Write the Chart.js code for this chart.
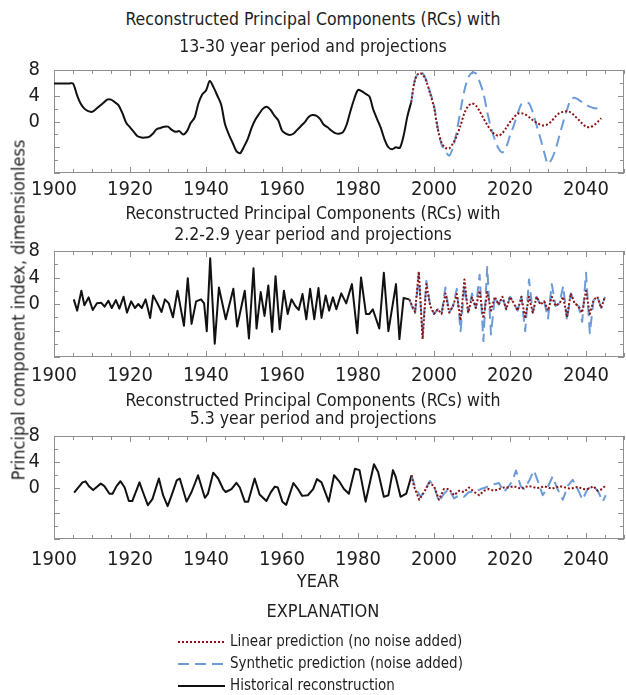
<!DOCTYPE html>
<html>
<head>
<meta charset="utf-8">
<script src="https://cdn.jsdelivr.net/npm/chart.js@4.4.1/dist/chart.umd.min.js"></script>
<style>
  body { margin: 0; background: #fff; }
  #page { position: relative; width: 626px; height: 695px; overflow: hidden;
          font-family: "Liberation Sans Narrow", "DejaVu Sans Condensed", sans-serif; color: #1e1e1e; }
  canvas { position: absolute; left: 0; }
  .t { position: absolute; left: 0; width: 626px; text-align: center; font-size: 17.5px;
       line-height: 20px; white-space: nowrap; }
  .lab { position: absolute; white-space: nowrap; }
  .row { position: absolute; left: 178px; height: 20px; font-size: 15px; line-height: 20px; white-space: nowrap; }
  .row svg { vertical-align: middle; margin-right: 5px; }
</style>
</head>
<body>
<div id="page">
  <canvas id="c1" width="626" height="157" style="top:52px"></canvas>
  <canvas id="c2" width="626" height="160" style="top:233px"></canvas>
  <canvas id="c3" width="626" height="157" style="top:418px"></canvas>

  <div class="t" style="top:9px">Reconstructed Principal Components (RCs) with</div>
  <div class="t" style="top:36px">13-30 year period and projections</div>
  <div class="t" style="top:203px">Reconstructed Principal Components (RCs) with</div>
  <div class="t" style="top:224px">2.2-2.9 year period and projections</div>
  <div class="t" style="top:390px">Reconstructed Principal Components (RCs) with</div>
  <div class="t" style="top:408px">5.3 year period and projections</div>

  <div class="lab" style="left:18px; top:310px; font-size:18px; transform: translate(-50%,-50%) rotate(-90deg);">Principal component index, dimensionless</div>
  <div class="lab" style="left:318px; top:580px; font-size:18px; transform: translate(-50%,-50%);">YEAR</div>
  <div class="lab" style="left:323px; top:610px; font-size:18px; transform: translate(-50%,-50%);">EXPLANATION</div>

  <div class="row" style="top:631px"><svg width="47" height="6"><line x1="0" y1="3" x2="47" y2="3" stroke="#8b1313" stroke-width="2" stroke-dasharray="2,2"/></svg>Linear prediction (no noise added)</div>
  <div class="row" style="top:653px"><svg width="47" height="6"><line x1="0" y1="3" x2="47" y2="3" stroke="#6d9bd8" stroke-width="2" stroke-dasharray="11,6"/></svg>Synthetic prediction (noise added)</div>
  <div class="row" style="top:675px"><svg width="47" height="6"><line x1="0" y1="3" x2="47" y2="3" stroke="#111" stroke-width="2"/></svg>Historical reconstruction</div>
</div>

<script>
// ---- Panel 1: 13-30 year period (annual values) ----
const rc1HistStart = 1900;
const rc1Hist = [5.9, 5.9, 5.9, 5.9, 5.9, 5.9,
  4.2, 2.8, 2.0, 1.6, 1.5, 1.9, 2.4, 2.9, 3.4, 3.4, 3.0, 2.5, 1.3, -0.2,
  -0.9, -1.6, -2.3, -2.5, -2.5, -2.4, -1.9, -1.2, -1.0, -0.8, -0.8, -1.3, -1.6, -1.5, -2.0,
  -1.5, -0.2, 0.6, 2.8, 4.2, 4.8, 6.3, 5.3, 4.0, 2.6, -0.4, -2.0, -3.3, -4.6, -4.9,
  -3.9, -2.7, -1.0, 0.3, 1.2, 2.0, 2.3, 1.8, 0.9, 0.2, -1.4, -1.9, -2.1, -1.9, -1.3,
  -0.7, -0.1, 0.7, 1.0, 0.9, 0.4, -0.5, -0.9, -1.4, -1.8, -1.9, -1.7, -0.5, 1.6, 3.5,
  4.9, 4.7, 4.3, 3.9, 1.9, 0.4, -1.0, -2.8, -4.0, -4.3, -4.0, -4.1, -2.2, 0.8, 3.0];
const rc1ProjStart = 1994;
const rc1Linear = [3.0, 6.5, 7.5, 7.3, 6.2, 4.3, 2.2, -1.2, -3.3, -4.1, -4.2, -3.4, -2.2, -0.6,
  1.3, 2.4, 2.8, 2.5, 1.6, 0.5, -0.5, -1.4, -2.0, -2.2, -1.8, -1.0, -0.1, 0.6, 1.2, 1.3,
  1.1, 0.7, 0.2, -0.2, -0.5, -0.6, -0.4, 0.1, 0.8, 1.3, 1.5, 1.6, 1.4, 0.9, 0.3, -0.3,
  -0.8, -0.9, -0.6, -0.1, 0.5];
const rc1Synthetic = [3.0, 6.5, 7.6, 7.5, 6.4, 4.5, 2.5, -1.0, -3.6, -4.6, -5.3, -4.0, -1.5, 1.8,
  4.8, 6.8, 7.6, 7.5, 6.2, 4.4, 1.5, -1.0, -2.8, -4.2, -4.8, -4.0, -2.2, -0.6, 1.2, 2.7,
  2.9, 2.8, 1.4, -0.6, -2.6, -4.8, -6.6, -5.8, -4.3, -2.2, -0.1, 1.8, 3.4, 3.7, 3.4, 3.0,
  2.6, 2.3, 2.1, 2.0, 1.5];

// ---- Panel 2: 2.2-2.9 year period ----
const rc2HistYears = [1905.2, 1906.1, 1907.2, 1908.0, 1909.1, 1910.2, 1911.3, 1912.4, 1913.3, 1914.3,
  1915.2, 1916.3, 1917.2, 1918.3, 1919.2, 1920.3, 1921.3, 1922.2, 1923.1, 1924.1,
  1925.3, 1926.1, 1927.3, 1928.3, 1929.2, 1930.2, 1931.3, 1932.5, 1934.2, 1935.2,
  1936.2, 1937.4, 1938.7, 1939.5, 1940.2, 1941.1, 1942.3, 1943.4, 1945.2, 1947.2,
  1948.2, 1950.2, 1951.3, 1952.5, 1953.3, 1954.4, 1955.4, 1956.4, 1957.4, 1958.3,
  1959.4, 1960.5, 1961.5, 1962.5, 1963.5, 1964.4, 1965.4, 1966.4, 1967.4, 1968.5,
  1969.6, 1970.4, 1971.5, 1972.4, 1973.4, 1974.3, 1975.6, 1976.9, 1978.4, 1979.8,
  1980.8, 1982.1, 1983.0, 1983.9, 1985.6, 1986.8, 1988.0, 1990.0, 1990.9, 1992.0, 1993.5];
const rc2Hist = [0.7, -1.0, 2.0, -0.2, 1.0, -0.9, 0.1, 0.2, -0.4, 0.5,
  -0.6, 0.6, -0.7, 1.1, -1.3, 0.4, -0.6, 0.0, -0.6, 0.7,
  -2.1, 1.3, 0.0, -1.2, 0.7, 0.1, -2.0, 2.0, -3.3, 3.9,
  -3.0, 0.4, 0.7, 0.1, -4.1, 6.9, -6.0, 2.5, -2.3, 2.3,
  -3.4, 2.0, -5.2, 5.4, -3.7, 1.8, -1.8, 2.8, -4.2, 4.2,
  -3.8, 2.0, -1.5, 0.7, -0.3, -0.9, 1.5, -2.3, 2.3, -2.3,
  2.4, -2.1, 1.3, -1.0, 1.0, -0.8, 1.6, 0.1, 3.0, -4.4,
  4.0, -1.5, -1.5, -0.8, -3.7, 4.7, -4.1, 3.0, -5.3, 0.9, 0.7];
const rc2ProjStart = 1995;
const rc2Linear = [-1.2, 4.9, -5.3, 3.0, -0.3, -1.5, -0.8, -1.5, 1.6, -1.3,
  -0.3, 1.5, -2.5, 3.7, -1.3, 1.0, -0.6, 2.0, -2.2, 1.8,
  -1.0, 1.1, -0.1, 1.1, -0.8, 1.1, 0.1, -1.0, 1.1, -2.2,
  1.1, -1.3, 1.1, -0.1, 0.4, -1.0, 1.1, -0.3, 0.1, 1.1,
  -2.0, 1.6, 0.1, -0.3, -1.3, 2.0, -1.5, 0.6, 1.1, -0.6, 1.1];
const rc2Synthetic = [-1.6, 4.5, -4.8, 3.5, -0.3, -1.5, -0.8, -1.5, 2.5, -1.3,
  -0.3, 2.3, -4.1, 2.8, -1.3, 1.6, -0.6, 4.4, -5.6, 5.6,
  -4.6, 1.1, -0.1, 1.1, -0.8, 1.1, 0.1, -1.0, 1.1, -4.1,
  3.7, -1.3, 1.1, -0.1, 0.4, -2.2, 3.0, -0.3, 0.1, 2.7,
  -2.5, 1.6, 0.1, -0.3, -2.7, 4.7, -4.4, 0.6, 1.1, -0.6, 1.1];

// ---- Panel 3: 5.3 year period ----
const rc3HistYears = [1905.3, 1906.1, 1907.5, 1908.3, 1909.2, 1910.3, 1911.1, 1912.3, 1913.2, 1914.6,
  1915.4, 1916.5, 1917.5, 1918.6, 1919.7, 1920.6, 1922.5, 1923.4, 1924.7, 1925.9,
  1927.6, 1928.7, 1929.9, 1930.9, 1932.3, 1933.1, 1934.9, 1936.2, 1937.9, 1939.7,
  1940.5, 1941.9, 1943.2, 1944.5, 1945.2, 1946.7, 1948.0, 1948.9, 1950.2, 1951.1,
  1952.8, 1954.1, 1955.9, 1957.0, 1958.1, 1958.9, 1960.1, 1961.1, 1963.0, 1964.2,
  1965.3, 1966.8, 1968.2, 1969.2, 1970.4, 1972.3, 1973.7, 1975.0, 1976.3, 1977.6,
  1979.2, 1980.4, 1982.0, 1984.2, 1985.3, 1986.8, 1988.0, 1989.2, 1989.9, 1991.2,
  1992.7, 1994.1];
const rc3Hist = [-0.8, -0.2, 0.8, 0.95, 0.2, -0.4, 0.0, 0.6, 0.25, -0.97,
  -0.97, 0.25, 0.97, 0.0, -2.1, -2.1, 0.8, -0.7, -2.75, -1.8,
  1.4, -1.2, -2.9, -1.3, 1.1, 1.4, -2.2, -0.7, 1.9, -1.6,
  -1.0, 2.3, 1.4, -0.24, -0.7, -0.24, 0.72, 0.0, -2.2, -2.2,
  1.4, -1.1, -2.1, -0.8, 0.14, 0.0, -2.2, -2.7, 0.7, -0.24,
  -1.3, -1.2, -0.24, 1.3, 0.8, -2.2, 1.9, 1.0, -0.24, -0.97,
  2.9, 2.7, -2.2, 3.6, 2.4, -1.45, -1.2, 2.7, 1.7, -1.45,
  -0.97, 1.9];
const rc3LinearYears = [1994.7, 1996.1, 1997.4, 1998.7, 2000.0, 2001.3, 2002.6, 2003.9, 2005.3, 2006.6,
  2007.9, 2009.2, 2010.6, 2011.9, 2013.2, 2014.4, 2015.8, 2017.1, 2018.4, 2019.7,
  2021, 2022, 2023, 2024, 2025, 2026, 2027, 2028, 2029, 2030,
  2031, 2032, 2033, 2034, 2035, 2036, 2037, 2038, 2039, 2040,
  2041, 2042, 2043, 2044, 2045];
const rc3Linear = [0.24, -1.9, -0.7, 0.7, 0.24, -1.9, -0.24, -0.24, -1.2, -0.5,
  -0.7, 0.0, -0.7, -1.2, -0.5, -0.24, -0.5, -0.24, 0.0, 0.0,
  0.2, 0.0, -0.2, 0.1, 0.2, 0.1, -0.1, 0.0, 0.2, 0.0,
  -0.2, 0.0, 0.2, 0.1, -0.1, -0.2, 0.0, 0.1, -0.2, -0.3,
  -0.1, 0.2, -0.5, -0.3, 0.2];
const rc3SyntheticYears = [1995.2, 1996.5, 1997.8, 1998.9, 2000.0, 2001.3, 2002.6, 2003.9, 2005.3, 2006.6,
  2007.9, 2009.2, 2010.9, 2012.3, 2013.6, 2014.4, 2015.8, 2017.1, 2018.4, 2019.7,
  2020.6, 2021.6, 2022.8, 2023.7, 2025.0, 2026.3, 2027.5, 2028.6, 2029.9, 2031.2,
  2032.5, 2033.9, 2035.2, 2036.5, 2037.8, 2039.1, 2040.4, 2041.8, 2043.1, 2044.4, 2045.2];
const rc3Synthetic = [-0.24, -1.45, -0.24, 1.0, 0.24, -2.2, -0.97, -0.24, -1.7, -1.2,
  -1.45, -0.7, -0.7, -0.24, 0.0, 0.24, 0.5, 0.7, -0.7, 0.24,
  1.0, 2.65, 0.24, -0.24, 1.0, 2.65, 0.7, -1.2, 0.0, 1.7,
  -0.24, -1.9, 0.24, 1.2, -0.24, -1.9, -0.24, 0.24, -0.5, -2.2, -1.2];

// axis ticks
const yearTicks = [1900, 1920, 1940, 1960, 1980, 2000, 2020, 2040];
const valueTicks = [-8, -4, 0, 4, 8];

const FONT = '"Liberation Sans Narrow", "DejaVu Sans Condensed", sans-serif';
const RED = '#8b1313', BLUE = '#6d9bd8', BLACK = '#111';

function pts(xs, ys) { return ys.map((v, i) => ({ x: xs[i], y: v })); }
function annual(start, ys) { return ys.map((v, i) => ({ x: start + i, y: v })); }

// frame with inward tick marks on all four sides
const frameTicks = {
    id: 'frameTicks',
    beforeDatasetsDraw(chart) {
        const { ctx, chartArea: a, scales: { x, y } } = chart;
        ctx.save();
        ctx.strokeStyle = '#8f8f8f';
        ctx.lineWidth = 1;
        ctx.strokeRect(a.left + 0.5, a.top + 0.5, a.right - a.left - 1, a.bottom - a.top - 1);
        ctx.beginPath();
        for (let yr = x.min; yr <= x.max; yr += 5) {
            const px = Math.round(x.getPixelForValue(yr)) + 0.5;
            const len = yr % 20 === 0 ? 6 : 4;
            ctx.moveTo(px, a.top); ctx.lineTo(px, a.top + len);
            ctx.moveTo(px, a.bottom); ctx.lineTo(px, a.bottom - len);
        }
        for (let v = y.min; v <= y.max; v += 2) {
            const py = Math.round(y.getPixelForValue(v)) + 0.5;
            const len = v % 4 === 0 ? 6 : 4;
            ctx.moveTo(a.left, py); ctx.lineTo(a.left + len, py);
            ctx.moveTo(a.right, py); ctx.lineTo(a.right - len, py);
        }
        ctx.stroke();
        ctx.restore();
    }
};

function makePanel(id, hist, linear, synthetic, xPad, tension) {
    const last = hist[hist.length - 1];
    return new Chart(document.getElementById(id), {
        type: 'line',
        data: {
            datasets: [
                { label: 'Linear prediction (no noise added)', data: [last, ...linear],
                  borderColor: RED, borderWidth: 2, borderDash: [2, 2], tension: tension },
                { label: 'Synthetic prediction (noise added)', data: [last, ...synthetic],
                  borderColor: BLUE, borderWidth: 2, borderDash: [11, 6], tension: tension },
                { label: 'Historical reconstruction', data: hist,
                  borderColor: BLACK, borderWidth: 2, tension: tension }
            ]
        },
        options: {
            responsive: false,
            animation: false,
            parsing: false,
            normalized: true,
            layout: { padding: { top: 12, right: 2, left: 0, bottom: 0 } },
            elements: { point: { radius: 0 }, line: { borderJoinStyle: 'round' } },
            plugins: { legend: { display: false }, tooltip: { enabled: false } },
            scales: {
                x: {
                    type: 'linear', min: 1900, max: 2050,
                    grid: { display: false }, border: { display: false },
                    afterBuildTicks: s => { s.ticks = yearTicks.map(v => ({ value: v })); },
                    afterFit: s => { s.height = 36; },
                    ticks: { color: '#1e1e1e', font: { family: FONT, size: 20 }, padding: xPad,
                             maxRotation: 0, autoSkip: false, callback: v => String(v) }
                },
                y: {
                    min: -8, max: 8,
                    grid: { display: false }, border: { display: false },
                    afterBuildTicks: s => { s.ticks = valueTicks.map(v => ({ value: v })); },
                    afterFit: s => { s.width = 54; },
                    ticks: { color: '#1e1e1e', font: { family: FONT, size: 20 }, padding: 6,
                             autoSkip: false, callback: v => (v >= 0 ? String(v) : '') }
                }
            }
        },
        plugins: [frameTicks]
    });
}

makePanel('c1', annual(rc1HistStart, rc1Hist), annual(rc1ProjStart, rc1Linear).slice(1),
          annual(rc1ProjStart, rc1Synthetic).slice(1), -3, 0.3);
makePanel('c2', pts(rc2HistYears, rc2Hist), annual(rc2ProjStart, rc2Linear),
          annual(rc2ProjStart, rc2Synthetic), -1, 0);
makePanel('c3', pts(rc3HistYears, rc3Hist), pts(rc3LinearYears, rc3Linear),
          pts(rc3SyntheticYears, rc3Synthetic), 1, 0);
</script>
</body>
</html>
